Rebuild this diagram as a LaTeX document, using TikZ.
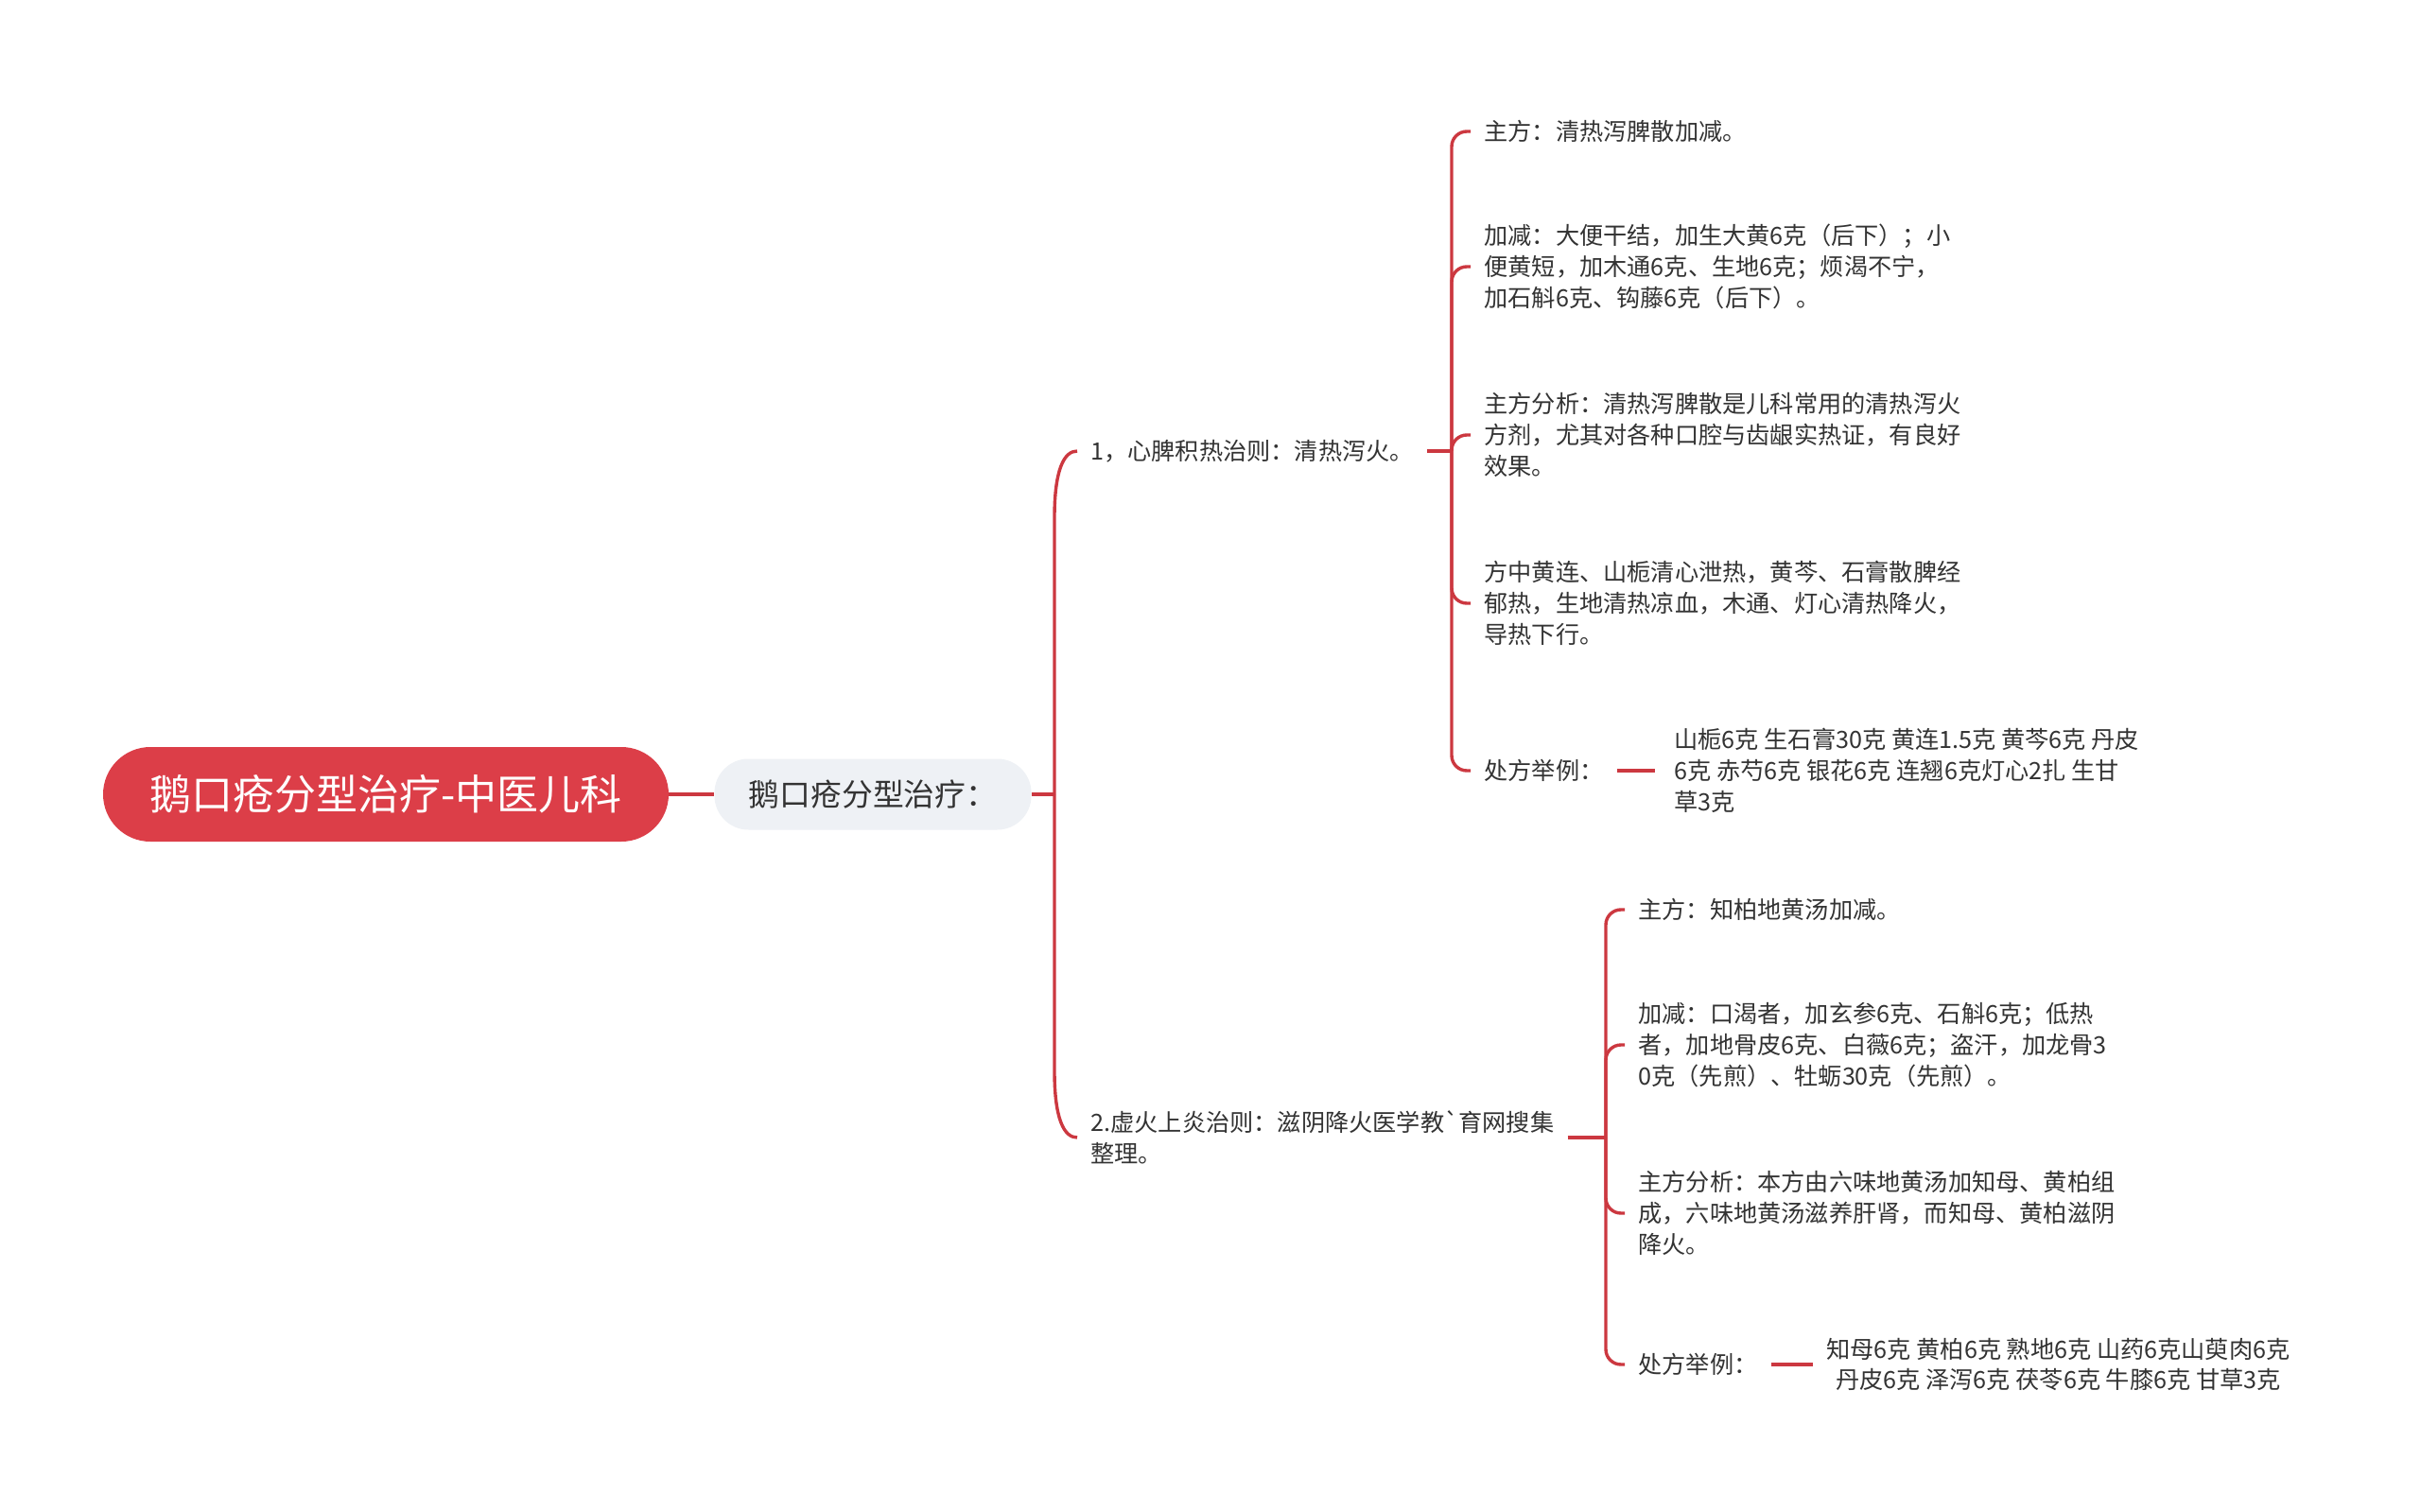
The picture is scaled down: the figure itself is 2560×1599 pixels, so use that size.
\documentclass[tikz,border=0pt]{standalone}
\usepackage{fontspec}
\newfontfamily\cjk{Noto Sans CJK SC}
\usetikzlibrary{positioning,calc}
\definecolor{mapred}{RGB}{220,62,72}
\definecolor{linered}{RGB}{204,56,64}
\definecolor{subgray}{RGB}{238,241,245}
\definecolor{leaftext}{RGB}{51,51,51}

\begin{document}
\begin{tikzpicture}[
x=0.5pt, y=-0.5pt,
rootbox/.style={fill=mapred, text=white, rounded corners=25pt, minimum width=299pt, minimum height=50pt, font=\cjk\fontsize{22pt}{26pt}\selectfont},
subbox/.style={fill=subgray, text=leaftext, rounded corners=18pt, minimum width=167.5pt, minimum height=37.5pt, font=\cjk\fontsize{16.4pt}{19pt}\selectfont},
leaf/.style={anchor=west, align=left, text=leaftext, inner xsep=7pt, inner ysep=1pt, font=\cjk\fontsize{12.6pt}{16.35pt}\selectfont},
branch/.style={draw=linered, line width=1.7pt, rounded corners=8pt}
]
    % canvas
    \fill[white] (0,0) rectangle (2560,1599);
    \useasboundingbox (0,0) rectangle (2560,1599);

    % main topic
    \node[rootbox] (root) at (408,840) {鹅口疮分型治疗-中医儿科};
    \node[subbox] (sub) at (923,840) {鹅口疮分型治疗：};

    % two kinds
    \node[leaf] (xp) at (1139,477) {1，心脾积热治则：清热泻火。};
    \node[leaf] (xh) at (1139,1203) {2.虚火上炎治则：滋阴降火医学教`育网搜集\\整理。};

    % 心脾积热
    \node[leaf] (xp1) at (1555,139) {主方：清热泻脾散加减。};
    \node[leaf] (xp2) at (1555,282) {加减：大便干结，加生大黄6克（后下）；小\\便黄短，加木通6克、生地6克；烦渴不宁，\\加石斛6克、钩藤6克（后下）。};
    \node[leaf] (xp3) at (1555,460) {主方分析：清热泻脾散是儿科常用的清热泻火\\方剂，尤其对各种口腔与齿龈实热证，有良好\\效果。};
    \node[leaf] (xp4) at (1555,638) {方中黄连、山栀清心泄热，黄芩、石膏散脾经\\郁热，生地清热凉血，木通、灯心清热降火，\\导热下行。};
    \node[leaf] (xp5) at (1555,815) {处方举例：};
    \node[leaf] (xp5r) at (1756,815) {山栀6克 生石膏30克 黄连1.5克 黄芩6克 丹皮\\6克 赤芍6克 银花6克 连翘6克灯心2扎 生甘\\草3克};

    % 虚火上炎
    \node[leaf] (xh1) at (1718,962) {主方：知柏地黄汤加减。};
    \node[leaf] (xh2) at (1718,1105) {加减：口渴者，加玄参6克、石斛6克；低热\\者，加地骨皮6克、白薇6克；盗汗，加龙骨3\\0克（先煎）、牡蛎30克（先煎）。};
    \node[leaf] (xh3) at (1718,1283) {主方分析：本方由六味地黄汤加知母、黄柏组\\成，六味地黄汤滋养肝肾，而知母、黄柏滋阴\\降火。};
    \node[leaf] (xh4) at (1718,1443) {处方举例：};
    \node[leaf, align=center] (xh4r) at (1917,1443) {知母6克 黄柏6克 熟地6克 山药6克山萸肉6克\\丹皮6克 泽泻6克 茯苓6克 牛膝6克 甘草3克};

    % connectors
    \draw[branch] (root.east) -- (sub.west);
    \coordinate (jm) at (1115,840);
    \draw[branch] (sub.east) -- (jm);
    \draw[branch, sharp corners] (jm) -- ($(jm |- xp.west)+(0,70)$)
        .. controls ($(jm |- xp.west)+(0,20)$) and ($(xp.west)+(-14,0)$) .. (xp.west);
    \draw[branch, sharp corners] (jm) -- ($(jm |- xh.west)+(0,-70)$)
        .. controls ($(jm |- xh.west)+(0,-20)$) and ($(xh.west)+(-14,0)$) .. (xh.west);

    \coordinate (jp) at (1535,477);
    \draw[branch] (xp.east) -- (jp);
    \foreach \n in {xp1,xp2,xp3,xp4,xp5}
        \draw[branch] (jp) |- (\n.west);
    \draw[branch, shorten >=3pt] (xp5.east) -- (xp5r.west);

    \coordinate (jh) at (1698,1203);
    \draw[branch] (xh.east) -- (jh);
    \foreach \n in {xh1,xh2,xh3,xh4}
        \draw[branch] (jh) |- (\n.west);
    \draw[branch] (xh4.east) -- (xh4r.west);

\end{tikzpicture}
\end{document}
